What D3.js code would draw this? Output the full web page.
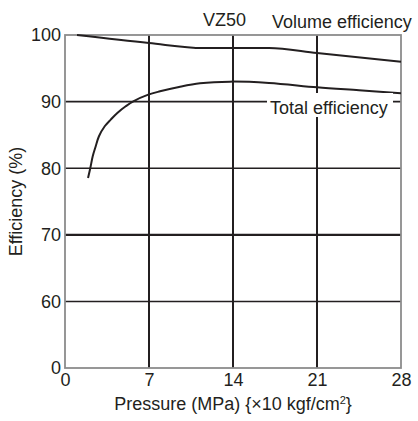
<!DOCTYPE html>
<html>
<head>
<meta charset="utf-8">
<script src="https://cdn.jsdelivr.net/npm/d3@7.9.0/dist/d3.min.js"></script>
<style>
  body { margin: 0; background: #fff; }
  svg text { font-family: "Liberation Sans", Arial, sans-serif; fill: #231f20; }
</style>
</head>
<body>
<svg width="418" height="421"></svg>
<script>
// pressure ticks (MPa) and efficiency ticks (%), axis has a break between 0 and 60
const xTicks = [0, 7, 14, 21, 28];
const yTicks = [0, 60, 70, 80, 90, 100];
const gridX = [7, 14, 21];
const gridY = [60, 70, 80, 90];

// Volume efficiency curve
const volPressure = [1, 7, 11.5, 17, 21, 28];
const volEff = [100, 98.8, 98.05, 98.05, 97.3, 96.0];

// Total efficiency curve
const totPressure = [1.92, 2.11, 2.31, 2.56, 2.83, 3.31, 3.81, 4.36, 5.06, 5.69, 6.94, 7.92, 9.5, 11.25, 13.75, 17, 21, 24.5, 28];
const totEff = [78.55, 80.05, 81.8, 83.3, 84.8, 86.3, 87.3, 88.3, 89.3, 90.05, 91.05, 91.55, 92.2, 92.75, 93.0, 92.8, 92.15, 91.7, 91.25];

const svg = d3.select("svg");
const plotL = 65, plotR = 401, plotT = 35, plotB = 368;

const x = d3.scaleLinear().domain([0, 28]).range([plotL, plotR]);
// broken axis: 0 sits one step below 60
const y = d3.scaleLinear().domain([0, 60, 100]).range([plotB, 301.5, plotT]);

// grid lines
svg.append("g").selectAll("line")
  .data(gridY)
  .join("line")
  .attr("x1", plotL).attr("x2", plotR)
  .attr("y1", d => y(d)).attr("y2", d => y(d))
  .attr("stroke", "#231f20")
  .attr("stroke-width", d => d === 70 ? 2.2 : (d === 60 ? 1.4 : 1.7));

svg.append("g").selectAll("line")
  .data(gridX)
  .join("line")
  .attr("x1", d => x(d)).attr("x2", d => x(d))
  .attr("y1", plotT).attr("y2", plotB)
  .attr("stroke", "#231f20")
  .attr("stroke-width", 2);

// frame
svg.append("rect")
  .attr("x", plotL).attr("y", plotT)
  .attr("width", plotR - plotL).attr("height", plotB - plotT)
  .attr("fill", "none")
  .attr("stroke", "#8c8c8c")
  .attr("stroke-width", 1.8);

// axes (labels only)
const xAxis = svg.append("g")
  .attr("transform", `translate(0,${plotB})`)
  .call(d3.axisBottom(x).tickValues(xTicks).tickSize(0).tickPadding(5));
const yAxis = svg.append("g")
  .attr("transform", `translate(${plotL},0)`)
  .call(d3.axisLeft(y).tickValues(yTicks).tickSize(0).tickPadding(4));
[xAxis, yAxis].forEach(a => {
  a.select(".domain").remove();
  a.selectAll("text")
    .style("font-family", '"Liberation Sans", Arial, sans-serif')
    .style("font-size", "18px")
    .attr("fill", "#231f20");
});

// curves
const volLine = d3.line()
  .x(d => x(d[0]))
  .y(d => y(d[1]))
  .curve(d3.curveMonotoneX);

// catmull-rom keeps the steep start of the total curve smooth
const totLine = d3.line()
  .x(d => x(d[0]))
  .y(d => y(d[1]))
  .curve(d3.curveCatmullRom.alpha(0.5));

svg.append("path")
  .datum(d3.zip(volPressure, volEff))
  .attr("d", volLine)
  .attr("fill", "none")
  .attr("stroke", "#231f20")
  .attr("stroke-width", 2);

svg.append("path")
  .datum(d3.zip(totPressure, totEff))
  .attr("d", totLine)
  .attr("fill", "none")
  .attr("stroke", "#231f20")
  .attr("stroke-width", 2);

// label box for "Total efficiency" hides the grid behind it
svg.append("rect")
  .attr("x", 267).attr("y", 93)
  .attr("width", 126).attr("height", 24)
  .attr("fill", "#fff");

svg.append("text")
  .attr("x", 270).attr("y", 113.5)
  .style("font-size", "18px")
  .text("Total efficiency");

// title and volume label
svg.append("text")
  .attr("x", 203).attr("y", 26)
  .style("font-size", "18px")
  .text("VZ50");

svg.append("text")
  .attr("x", 272).attr("y", 28)
  .style("font-size", "18px")
  .text("Volume efficiency");

// axis titles
svg.append("text")
  .attr("transform", `translate(22,${(plotT + plotB) / 2}) rotate(-90)`)
  .attr("text-anchor", "middle")
  .style("font-size", "18px")
  .text("Efficiency (%)");

const xt = svg.append("text")
  .attr("x", (plotL + plotR) / 2).attr("y", 410)
  .attr("text-anchor", "middle")
  .style("font-size", "18px");
xt.append("tspan").text("Pressure (MPa) {\u00d710 kgf/cm");
xt.append("tspan").attr("dy", -6).style("font-size", "11px").text("2");
xt.append("tspan").attr("dy", 6).text("}");
</script>
</body>
</html>
